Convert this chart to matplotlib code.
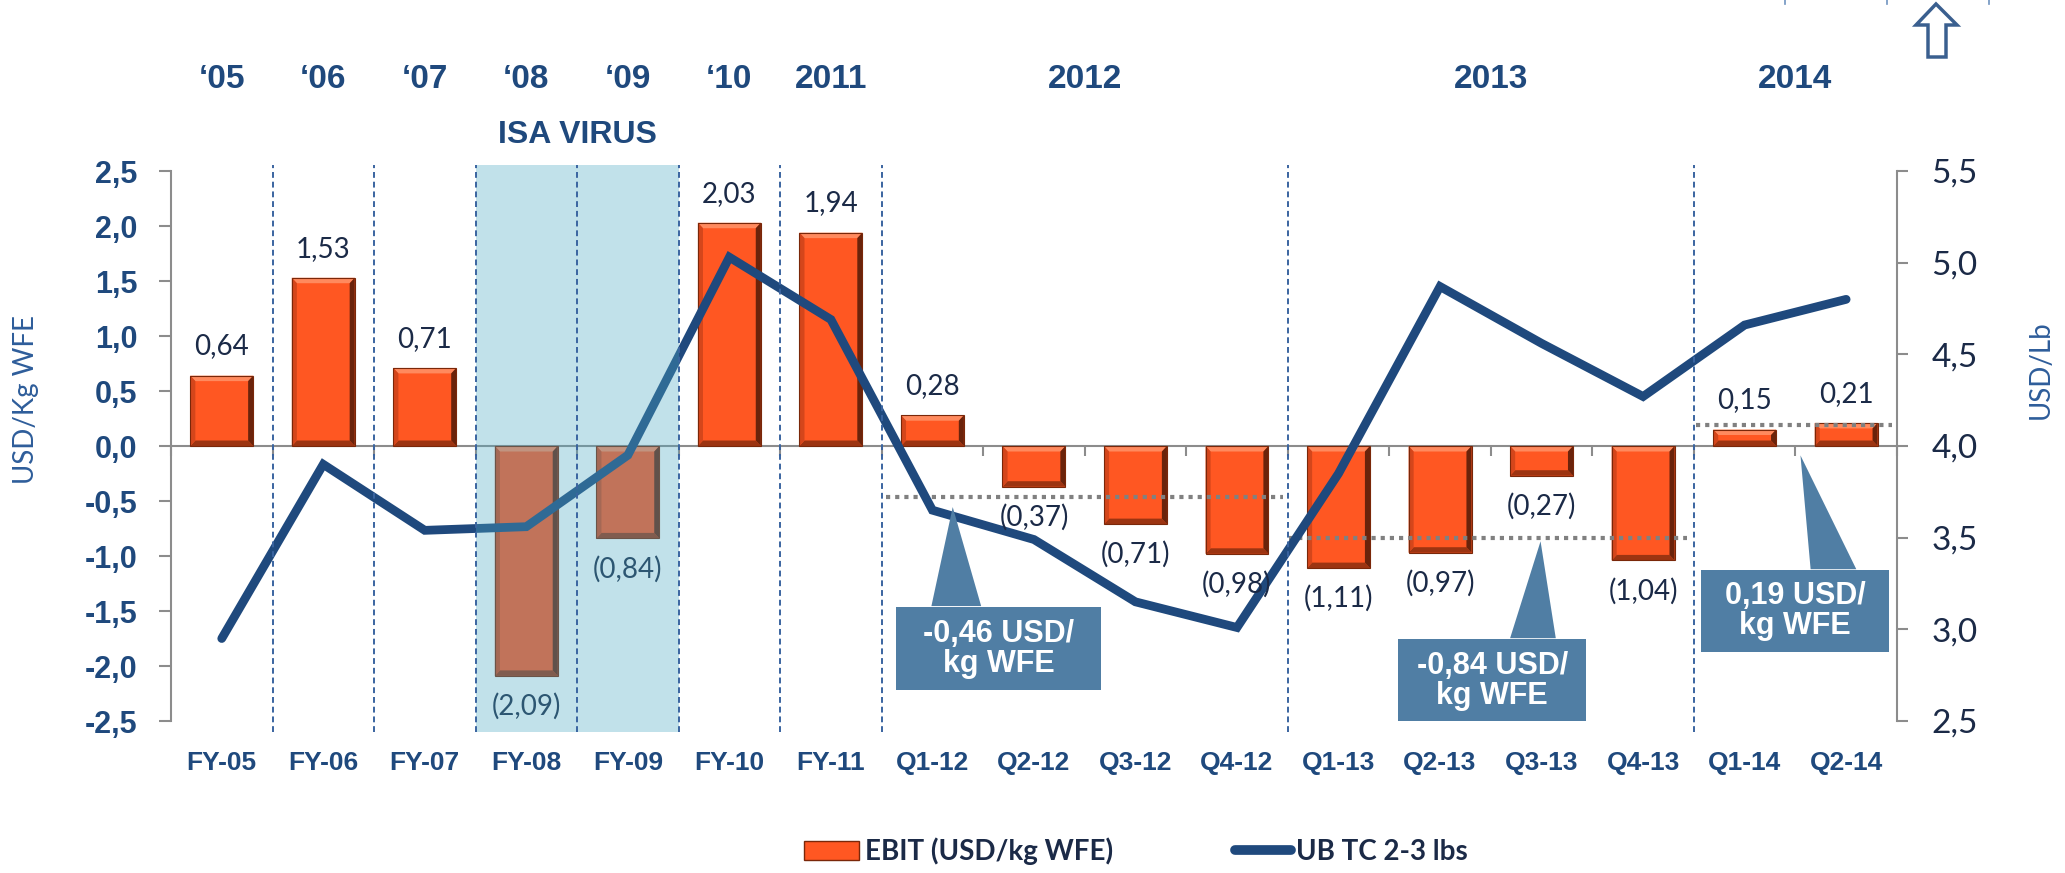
import matplotlib
matplotlib.use('Agg')
import matplotlib.pyplot as plt
from matplotlib.patches import Polygon, Rectangle, Patch
from matplotlib.lines import Line2D
import numpy as np

#data
periods = ['FY-05', 'FY-06', 'FY-07', 'FY-08', 'FY-09', 'FY-10', 'FY-11',
           'Q1-12', 'Q2-12', 'Q3-12', 'Q4-12', 'Q1-13', 'Q2-13', 'Q3-13',
           'Q4-13', 'Q1-14', 'Q2-14']
ebit = [0.64, 1.53, 0.71, -2.09, -0.84, 2.03, 1.94, 0.28, -0.37, -0.71,
        -0.98, -1.11, -0.97, -0.27, -1.04, 0.15, 0.21]
ub_tc = [2.95, 3.90, 3.54, 3.56, 3.95, 5.03, 4.69, 3.65, 3.49, 3.15,
         3.01, 3.85, 4.87, 4.56, 4.27, 4.66, 4.80]
years = ['\u201805', '\u201806', '\u201807', '\u201808', '\u201809', '\u201810',
         '2011', '2012', '2013', '2014']
year_pos = [0, 1, 2, 3, 4, 5, 6, 8.5, 12.5, 15.5]
separators = [0.5, 1.5, 2.5, 3.5, 4.5, 5.5, 6.5, 10.5, 14.5]
avg_values = [-0.46, -0.84, 0.19]
avg_labels = ['-0,46 USD/\nkg WFE', '-0,84 USD/\nkg WFE', '0,19 USD/\nkg WFE']

#colours
navy = '#1F497D'
orange = '#FF5722'
grey = '#8C8C8C'
box_blue = '#507EA4'
text_dark = '#1B2A47'

def fmt(v):
    s = f'{abs(v):.2f}'.replace('.', ',')
    return s if v >= 0 else f'({s})'

fig = plt.figure(figsize=(20.65, 8.73), dpi=100)
ax = fig.add_axes([0.0828, 0.1741, 0.8358, 0.6300])
ax2 = ax.twinx()

x = np.arange(len(periods))

#bars
bars = ax.bar(x, ebit, width=0.62, color=orange, edgecolor='none', zorder=3)

#bevel look on each bar (strips built from the bar geometry)
dx, dy = 0.05, 0.05
for b in bars.patches:
    x0, x1 = b.get_x(), b.get_x() + b.get_width()
    y0, y1 = sorted([b.get_y(), b.get_y() + b.get_height()])
    e = min(dy, (y1 - y0) / 3)
    xi0, xi1, yi0, yi1 = x0 + dx, x1 - dx, y0 + e, y1 - e
    strips = [
        ([(x0, y1), (x1, y1), (xi1, yi1), (xi0, yi1)], '#FF8A5E'),
        ([(x0, y0), (x1, y0), (xi1, yi0), (xi0, yi0)], '#9C3411'),
        ([(x0, y0), (x0, y1), (xi0, yi1), (xi0, yi0)], '#D4461B'),
        ([(x1, y0), (x1, y1), (xi1, yi1), (xi1, yi0)], '#6A230B'),
    ]
    for pts, c in strips:
        ax.add_patch(Polygon(pts, closed=True, facecolor=c, edgecolor='none',
                             zorder=3.1))
    ax.add_patch(Rectangle((x0, y0), x1 - x0, y1 - y0, facecolor='none',
                           edgecolor='#7A2709', linewidth=0.8, zorder=3.2))

#line
ax2.plot(x, ub_tc, color=navy, linewidth=6.3, solid_capstyle='round',
         solid_joinstyle='miter', zorder=3)

#axes limits and spines
ax.set_xlim(-0.5, 16.5)
ax.set_ylim(-2.5, 2.5)
ax2.set_ylim(2.5, 5.5)

for s in ['top', 'right']:
    ax.spines[s].set_visible(False)
ax.spines['bottom'].set_position(('data', 0))
ax.spines['bottom'].set_color(grey)
ax.spines['left'].set_color(grey)
ax.spines['left'].set_linewidth(1.5)
ax.spines['bottom'].set_linewidth(1.5)
for s in ['top', 'left', 'bottom']:
    ax2.spines[s].set_visible(False)
ax2.spines['right'].set_color(grey)
ax2.spines['right'].set_linewidth(1.5)

ax.set_xticks(np.arange(-0.5, 16.6, 1.0))
ax.set_xticklabels([])
ax.tick_params(axis='x', length=7, width=1.5, color=grey, direction='out')

yt = np.arange(-2.5, 2.51, 0.5)
ax.set_yticks(yt)
ax.set_yticklabels([f'{v:.1f}'.replace('.', ',') for v in yt],
                   fontfamily='Liberation Sans', fontweight='bold',
                   fontsize=22, color=navy)
ax.tick_params(axis='y', length=9, width=1.5, color=grey, pad=15)

yt2 = np.arange(2.5, 5.51, 0.5)
ax2.set_yticks(yt2)
ax2.set_yticklabels([f'{v:.1f}'.replace('.', ',') for v in yt2],
                    fontfamily='Lato', fontsize=24, color=text_dark)
ax2.tick_params(axis='y', length=8, width=1.5, color=grey, pad=17)

ax.set_ylabel('USD/Kg WFE', fontfamily='Lato', fontsize=20, color='#2E5D9A')
ax.yaxis.set_label_coords(-0.0762, 0.585)
ax2.set_ylabel('USD/Lb', fontfamily='Lato', fontsize=20, color='#2E5D9A')
ax2.yaxis.set_label_coords(1.076, 0.638)

#category labels at the bottom
blend = ax.get_xaxis_transform()
for i, p in enumerate(periods):
    ax2.text(i, -0.076, p, transform=blend, ha='center', va='center',
             fontfamily='Liberation Sans', fontweight='bold', fontsize=19,
             color=navy)

#year labels at the top
for pos, yr in zip(year_pos, years):
    ax2.text(pos, 1.167, yr, transform=blend, ha='center', va='center',
             fontfamily='Liberation Sans', fontweight='bold', fontsize=24,
             color=navy)
ax2.text(3.5, 1.065, 'ISA VIRUS', transform=blend, ha='center', va='center',
         fontfamily='Liberation Sans', fontweight='bold', fontsize=23,
         color=navy)

#bar value labels
for i, v in enumerate(ebit):
    off = 21 if v >= 0 else -22
    ax2.annotate(fmt(v), xy=(i, v), xycoords=ax.transData,
                 xytext=(0, off), textcoords='offset points',
                 ha='center', va='center', fontfamily='Lato', fontsize=20,
                 color=text_dark, zorder=4)

#average dotted lines
avg_spans = [(6.54, 10.45), (10.51, 14.43), (14.52, 16.45)]
for v, (x0, x1) in zip(avg_values, avg_spans):
    ax2.plot([x0, x1], [v, v], transform=ax.transData, color='#808080',
             linewidth=3, linestyle=(0, (1, 1.2)), zorder=2.5)

#ISA virus shading
shade = Rectangle((2.5, -2.6), 2, 5.155, transform=ax.transData,
                  facecolor='#4EA9C3', alpha=0.35, edgecolor='none',
                  clip_on=False, zorder=5)
ax2.add_patch(shade)

#dashed separators
for s in separators:
    ax2.plot([s, s], [-2.6, 2.555], transform=ax.transData, color='#3A64A0',
             linewidth=1.4, linestyle=(0, (3, 2)), clip_on=False, zorder=6)

#callouts
boxes = [(6.64, 8.66, -2.22, -1.465), (11.59, 13.44, -2.512, -1.757),
         (14.57, 16.42, -1.876, -1.13)]
bases = [(6.99, 7.48), (12.69, 13.14), (15.65, 16.10)]
tips = [(7.2, -0.555), (12.99, -0.866), (15.55, -0.085)]
for (x0, x1, y0, y1), (b0, b1), tip, lab in zip(boxes, bases, tips, avg_labels):
    ax2.add_patch(Rectangle((x0, y0), x1 - x0, y1 - y0, transform=ax.transData,
                            facecolor=box_blue, edgecolor='none', zorder=7))
    ax2.add_patch(Polygon([(b0, y1 + 0.01), (b1, y1 + 0.01), tip],
                          closed=True, transform=ax.transData,
                          facecolor=box_blue, edgecolor='none', zorder=7))
    ax2.text((x0 + x1) / 2, (y0 + y1) / 2, lab, transform=ax.transData,
             ha='center', va='center', fontfamily='Liberation Sans',
             fontweight='bold', fontsize=22, color='white',
             linespacing=1.0, zorder=8)

#legend
handles = [Patch(facecolor=orange, edgecolor='#7A2709'),
           Line2D([0], [0], color=navy, linewidth=7, solid_capstyle='round')]
fig.legend(handles, ['EBIT (USD/kg WFE)', 'UB TC 2-3 lbs'], loc='center',
           bbox_to_anchor=(0.55, 0.025), ncol=2, frameon=False,
           prop={'family': 'Lato', 'weight': 'bold', 'size': 20},
           labelcolor=text_dark, handlelength=2.0, handletextpad=0.2,
           columnspacing=4.4)

#outline arrow top right
W, H = 2065, 873
arrow_px = [(1936, 4), (1957, 25), (1946, 25), (1946, 57), (1928, 57),
            (1928, 25), (1916, 25)]
fig.patches.append(Polygon([(px / W, 1 - py / H) for px, py in arrow_px],
                           closed=True, transform=fig.transFigure,
                           facecolor='white', edgecolor='#3A5F8F',
                           linewidth=2.5))
for px in [1785, 1887, 1989]:
    fig.add_artist(Line2D([px / W, px / W], [1.0, 1 - 4 / H],
                          transform=fig.transFigure, color='#6F93C0',
                          linewidth=1.2))

fig.savefig('out.png', dpi=100)
